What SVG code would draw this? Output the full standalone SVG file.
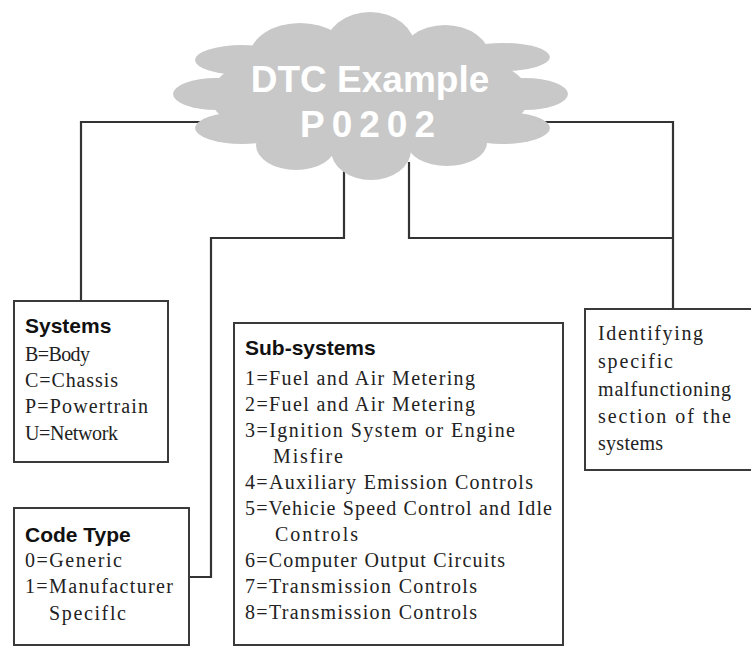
<svg xmlns="http://www.w3.org/2000/svg" width="751" height="647" viewBox="0 0 751 647">
<style>
.box{fill:#fff;stroke:#3a3a3a;stroke-width:2}
.wire{fill:none;stroke:#333;stroke-width:2.2}
.cloud{fill:#c8c8c8}
.title{font-family:"Liberation Sans",Arial,sans-serif;font-weight:bold;font-size:37px;fill:#fff}
.head{font-family:"Liberation Sans",Arial,sans-serif;font-weight:bold;font-size:21px;fill:#111}
.item{font-family:"Liberation Serif","Times New Roman",serif;font-size:20px;fill:#222}
</style>
<rect width="751" height="647" fill="#fff"/>
<g id="connectors">
<path class="wire" d="M200,122 H81 V301"/>
<path class="wire" d="M344,170 V238 H211 V577 H189"/>
<path class="wire" d="M409,162 V238 H673"/>
<path class="wire" d="M545,122 H673 V309"/>
</g>
<g id="cloud">
<g class="cloud">
<ellipse cx="370" cy="96" rx="160" ry="55"/>
<ellipse cx="370" cy="48" rx="45" ry="36"/>
<ellipse cx="300" cy="56" rx="50" ry="33"/>
<ellipse cx="445" cy="58" rx="45" ry="33"/>
<ellipse cx="242" cy="60" rx="47" ry="15"/>
<ellipse cx="216" cy="94" rx="43" ry="16"/>
<ellipse cx="242" cy="128" rx="47" ry="16"/>
<ellipse cx="503" cy="57" rx="47" ry="14"/>
<ellipse cx="525" cy="94" rx="43" ry="16"/>
<ellipse cx="503" cy="128" rx="47" ry="16"/>
<ellipse cx="296" cy="145" rx="40" ry="25"/>
<ellipse cx="371" cy="150" rx="40" ry="30"/>
<ellipse cx="447" cy="143" rx="40" ry="23"/>
</g>
<text class="title" x="370" y="92" text-anchor="middle">DTC Example</text>
<text class="title" x="371" y="137" text-anchor="middle" letter-spacing="7">P0202</text>
</g>
<g id="systems">
<rect class="box" x="14" y="301" width="154" height="161"/>
<text class="head" x="25" y="333">Systems</text>
<text class="item" x="25" y="361" textLength="65">B=Body</text>
<text class="item" x="25" y="387" textLength="93">C=Chassis</text>
<text class="item" x="25" y="413" textLength="123">P=Powertrain</text>
<text class="item" x="25" y="440" textLength="93">U=Network</text>
</g>
<g id="code-type">
<rect class="box" x="14" y="508" width="175" height="137"/>
<text class="head" x="25" y="542">Code Type</text>
<text class="item" x="25" y="567" textLength="97">0=Generic</text>
<text class="item" x="25" y="593" textLength="148">1=Manufacturer</text>
<text class="item" x="49" y="620" textLength="77">Speciflc</text>
</g>
<g id="sub-systems">
<rect class="box" x="234" y="323" width="329" height="322"/>
<text class="head" x="245" y="355">Sub-systems</text>
<text class="item" x="245" y="385" textLength="230">1=Fuel and Air Metering</text>
<text class="item" x="245" y="411" textLength="230">2=Fuel and Air Metering</text>
<text class="item" x="245" y="437" textLength="270">3=Ignition System or Engine</text>
<text class="item" x="273" y="463" textLength="70">Misfire</text>
<text class="item" x="245" y="489" textLength="288">4=Auxiliary Emission Controls</text>
<text class="item" x="245" y="515" textLength="307">5=Vehicie Speed Control and Idle</text>
<text class="item" x="275" y="541" textLength="83">Controls</text>
<text class="item" x="245" y="567" textLength="260">6=Computer Output Circuits</text>
<text class="item" x="245" y="593" textLength="232">7=Transmission Controls</text>
<text class="item" x="245" y="619" textLength="232">8=Transmission Controls</text>
</g>
<g id="identifying">
<rect class="box" x="585" y="309" width="180" height="161"/>
<text class="item" x="598" y="340" textLength="105">Identifying</text>
<text class="item" x="598" y="368" textLength="75">specific</text>
<text class="item" x="598" y="396" textLength="133">malfunctioning</text>
<text class="item" x="598" y="423" textLength="133">section of the</text>
<text class="item" x="598" y="450" textLength="65">systems</text>
</g>
</svg>
